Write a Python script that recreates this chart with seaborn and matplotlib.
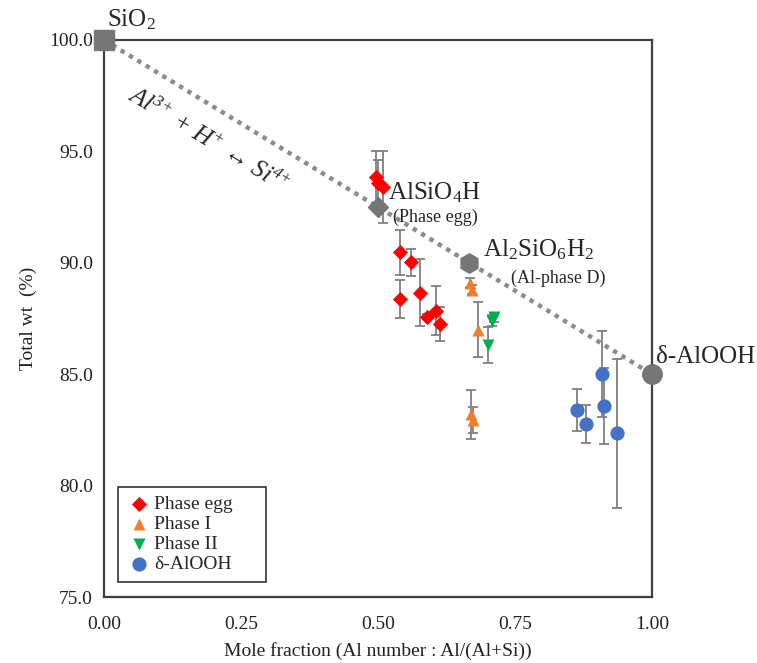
import numpy as np
import pandas as pd
import matplotlib
matplotlib.use("Agg")
import matplotlib.pyplot as plt
import seaborn as sns

# ---- data ----
egg_x = [0.497, 0.500, 0.510, 0.541, 0.561, 0.541, 0.577, 0.589, 0.605, 0.614]
egg_y = [93.85, 93.60, 93.40, 90.47, 90.02, 88.38, 88.66, 87.58, 87.85, 87.25]
egg_e = [1.15, 1.00, 1.60, 1.00, 0.60, 0.85, 1.50, 0.10, 1.10, 0.75]

p1_x = [0.668, 0.672, 0.683, 0.670, 0.673]
p1_y = [89.10, 88.80, 87.00, 83.20, 82.95]
p1_e = [0.20, 0.20, 1.25, 1.10, 0.60]

p2_x = [0.700, 0.708, 0.712]
p2_y = [86.30, 87.40, 87.55]
p2_e = [0.80, 0.25, 0.20]

d_x = [0.864, 0.879, 0.908, 0.912, 0.936]
d_y = [83.39, 82.75, 85.00, 83.59, 82.35]
d_e = [0.95, 0.85, 1.92, 1.70, 3.35]

series = ["Phase egg", "Phase I", "Phase II", "δ-AlOOH"]
colors = ["#FF0000", "#ED7D31", "#00B050", "#4472C4"]
markers = ["D", "^", "v", "o"]
sizes = [60, 75, 75, 105]

end_x = [0.0, 0.5, 2/3, 1.0]
end_y = [100.0, 92.5, 90.0, 85.0]
end_markers = ["s", "D", "h", "o"]

line_x = [0.0, 1.0]
line_y = [100.0, 85.0]

xticks = [0.00, 0.25, 0.50, 0.75, 1.00]
yticks = [75.0, 80.0, 85.0, 90.0, 95.0, 100.0]

# ---- style ----
sns.set_theme(style="white")
plt.rcParams["font.family"] = ["Liberation Serif", "DejaVu Serif"]
plt.rcParams["mathtext.default"] = "regular"

fig = plt.figure(figsize=(7.57, 6.63), dpi=100)
ax = fig.add_axes([0.1374, 0.0995, 0.7239, 0.8402])

frames = []
for name, xs, ys, es in [(series[0], egg_x, egg_y, egg_e),
                         (series[1], p1_x, p1_y, p1_e),
                         (series[2], p2_x, p2_y, p2_e),
                         (series[3], d_x, d_y, d_e)]:
    frames.append(pd.DataFrame({"x": xs, "y": ys, "err": es, "series": name}))
df = pd.concat(frames, ignore_index=True)

# dotted substitution line
ax.plot(line_x, line_y, linestyle=(0, (1, 1.2)), color="#8C8C8C", lw=3.2, zorder=1)

# error bars
ax.errorbar(df["x"], df["y"], yerr=df["err"], fmt="none", ecolor="#808080",
            elinewidth=1.3, capsize=3.5, capthick=1.3, zorder=2)

for name, c, m, s in zip(series, colors, markers, sizes):
    sub = df[df["series"] == name]
    sns.scatterplot(data=sub, x="x", y="y", color=c, marker=m, s=s,
                    edgecolor=c, linewidth=0, ax=ax, label=name, zorder=4)

# end members
for ex, ey, em in zip(end_x, end_y, end_markers):
    ax.plot([ex], [ey], marker=em, color="#767676", markersize=14 if em != "D" else 10.5,
            linestyle="none", zorder=5, clip_on=False)

ax.set_xlim(0, 1)
ax.set_ylim(75, 100)
ax.set_xticks(xticks)
ax.set_yticks(yticks)
ax.set_xticklabels([f"{v:.2f}" for v in xticks], fontsize=14)
ax.set_yticklabels([f"{v:.1f}" for v in yticks], fontsize=14)
ax.tick_params(axis="both", direction="in", length=5, width=1.2, color="#404040",
               top=False, right=False, labelcolor="#222222")
ax.tick_params(axis="x", pad=14)
ax.tick_params(axis="y", pad=8)
for sp in ax.spines.values():
    sp.set_color("#404040")
    sp.set_linewidth(1.6)

ax.set_xlabel("Mole fraction (Al number : Al/(Al+Si))", fontsize=14, labelpad=6, color="#222222")
ax.set_ylabel("Total wt  (%)", fontsize=14, labelpad=9, color="#222222")

# annotations
ax.text(0.006, 100.9, "SiO$_2$", fontsize=18, ha="left", va="center", clip_on=False)
ax.text(0.518, 93.15, "AlSiO$_4$H", fontsize=18, ha="left", va="center")
ax.text(0.527, 92.05, "(Phase egg)", fontsize=13, ha="left", va="center")
ax.text(0.692, 90.6, "Al$_2$SiO$_6$H$_2$", fontsize=18, ha="left", va="center")
ax.text(0.742, 89.3, "(Al-phase D)", fontsize=13, ha="left", va="center")
ax.text(1.008, 85.75, "δ-AlOOH", fontsize=18, ha="left", va="center", clip_on=False)
ax.text(0.19, 95.5, "Al$^{3{+}}$ + H$^{{+}}$ ↔ Si$^{4{+}}$", fontsize=18, ha="center", va="center",
        rotation=-31, style="italic", rotation_mode="anchor")

leg = ax.legend(loc="lower left", bbox_to_anchor=(0.026, 0.027, 0.27, 0.2), mode="expand",
                fontsize=14, frameon=True, fancybox=False, edgecolor="#000000",
                handletextpad=0.2, borderpad=0.45, labelspacing=0.12, handlelength=1.2,
                borderaxespad=0.0)
leg.get_frame().set_linewidth(1.2)

fig.savefig("out.png", dpi=100)
